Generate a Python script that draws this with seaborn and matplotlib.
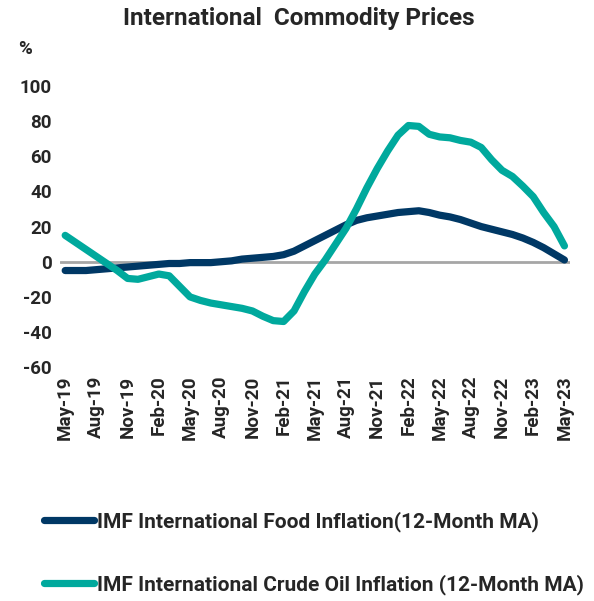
import numpy as np
import pandas as pd
import seaborn as sns
import matplotlib.pyplot as plt

months = pd.date_range('2019-05-01', '2023-05-01', freq='MS')

food = [-5, -5, -5, -4.5, -4, -3.5, -3, -2.5, -2, -1.5, -1, -1,
        -0.5, -0.5, -0.5, 0, 0.5, 1.5, 2, 2.5, 3, 4, 6, 9,
        12, 15, 18, 21, 23.5, 25, 26, 27, 28, 28.5, 29, 28,
        26.5, 25.5, 24, 22, 20, 18.5, 17, 15.5, 13.5, 11, 8, 4.5, 1]

crude = [15, 11, 7, 3, -1, -5, -9.5, -10, -8.5, -7, -8, -14,
         -20, -22, -23.5, -24.5, -25.5, -26.5, -28, -31, -33.5, -34, -28, -17,
         -7, 1, 10, 19, 30, 42, 53, 63, 72, 77.5, 77, 72.5,
         71, 70.5, 69, 68, 65, 58, 52, 48.5, 43, 37, 28, 20, 9]

food_name = 'IMF International Food Inflation(12-Month MA)'
crude_name = 'IMF International Crude Oil Inflation (12-Month MA)'

df = pd.DataFrame({'idx': np.arange(len(months)), 'food': food, 'crude': crude})
df = df.melt(id_vars='idx', var_name='series', value_name='value')
df['series'] = df['series'].map({'food': food_name, 'crude': crude_name})

sns.set_style('white')
plt.rcParams['font.family'] = ['Roboto', 'DejaVu Sans']
plt.rcParams['font.weight'] = 'bold'

fig = plt.figure(figsize=(5.94, 6.01), dpi=100)
ax = fig.add_axes([0.101, 0.389, 0.858, 0.468])

ax.axhline(0, color='#a6a6a6', lw=2, zorder=1)
sns.lineplot(data=df, x='idx', y='value', hue='series',
             palette=['#003865', '#00a99d'], lw=5.2, ax=ax,
             solid_capstyle='round', legend=True, zorder=3)

ax.set_xlim(-0.5, 48.5)
ax.set_ylim(-60, 100)
ax.set_yticks(range(-60, 101, 20))
ticks = list(range(0, 49, 3))
ax.set_xticks(ticks)
ax.set_xticklabels([months[i].strftime('%b-%y') for i in ticks], rotation=90,
                   fontsize=13.5, fontweight='bold')
ax.set_yticklabels([str(v) for v in range(-60, 101, 20)], fontsize=13.5, fontweight='bold')
ax.tick_params(axis='both', length=0, pad=6)
ax.set_xlabel('')
ax.set_ylabel('')
for s in ax.spines.values():
    s.set_visible(False)

h, l = ax.get_legend_handles_labels()
ax.get_legend().remove()
for hh in h:
    hh.set_solid_capstyle('round')
fig.legend(h, l, loc='upper left', bbox_to_anchor=(0.042, 0.18), frameon=False,
           handlelength=2.4, handletextpad=0.15, labelspacing=2.0,
           prop={'size': 15, 'weight': 'bold'})

fig.text(0.503, 0.97, 'International  Commodity Prices', ha='center', va='center',
         fontsize=17.5, fontweight='bold')
fig.text(0.042, 0.918, '%', ha='center', va='center', fontsize=13.5, fontweight='bold')

fig.savefig('out.png', dpi=100)
